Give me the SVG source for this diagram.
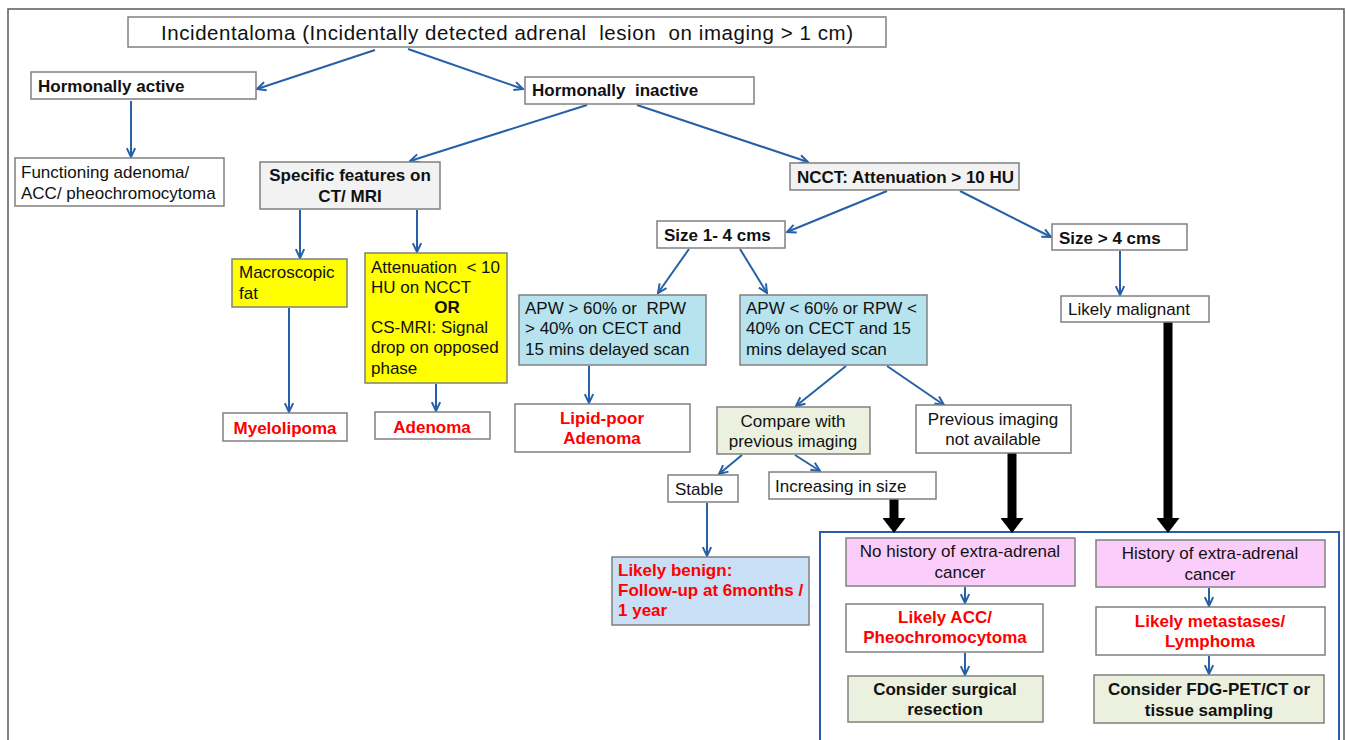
<svg xmlns="http://www.w3.org/2000/svg" width="1346" height="740" viewBox="0 0 1346 740">
<style>
text{font-family:"Liberation Sans",Arial,sans-serif;font-size:17px;fill:#111;white-space:pre}
.b{font-weight:bold}
.r{fill:#ff0000;font-weight:bold}
.c{text-anchor:middle}
.box{fill:#fff;stroke:#808080;stroke-width:1.5}
.gray{fill:#f2f2f2}
.yel{fill:#ffff00}
.cyan{fill:#b7e3ee}
.grn{fill:#ebf1de}
.pink{fill:#fbcdfb}
.lblue{fill:#c8dff5}
.ar{stroke:#2560a8;stroke-width:2;fill:none;marker-end:url(#a)}
.thick{stroke:#000;stroke-width:9;fill:none;marker-end:url(#t)}
</style>
<defs>
<marker id="a" markerUnits="userSpaceOnUse" markerWidth="11" markerHeight="11" viewBox="0 0 10 10" refX="9" refY="5" orient="auto">
<path d="M1,1.2 L9,5 L1,8.8" fill="none" stroke="#2560a8" stroke-width="1.8"/>
</marker>
<marker id="t" markerUnits="userSpaceOnUse" markerWidth="15" markerHeight="23" viewBox="0 0 15 23" refX="0" refY="11.5" orient="auto">
<path d="M0,0 L15,11.5 L0,23 Z" fill="#000"/>
</marker>
</defs>
<rect x="8" y="9" width="1336" height="760" fill="#fff" stroke="#595959" stroke-width="1.5"/>
<rect x="820" y="532" width="519" height="230" fill="none" stroke="#2a5ea8" stroke-width="2"/>

<g id="connectors">
<line class="ar" x1="375" y1="50" x2="257" y2="89"/>
<line class="ar" x1="408" y1="49" x2="523" y2="89"/>
<line class="ar" x1="131" y1="101" x2="131" y2="157"/>
<line class="ar" x1="587" y1="105" x2="410" y2="161"/>
<line class="ar" x1="637" y1="105" x2="808" y2="162"/>
<line class="ar" x1="887" y1="191" x2="787" y2="232"/>
<line class="ar" x1="960" y1="191" x2="1051" y2="237"/>
<line class="ar" x1="300" y1="210" x2="300" y2="258"/>
<line class="ar" x1="417" y1="210" x2="417" y2="252"/>
<line class="ar" x1="289" y1="308" x2="289" y2="412"/>
<line class="ar" x1="436" y1="384" x2="436" y2="411"/>
<line class="ar" x1="689" y1="249" x2="658" y2="293"/>
<line class="ar" x1="740" y1="249" x2="767" y2="293"/>
<line class="ar" x1="589" y1="366" x2="589" y2="403"/>
<line class="ar" x1="846" y1="366" x2="796" y2="406"/>
<line class="ar" x1="887" y1="366" x2="944" y2="405"/>
<line class="ar" x1="742" y1="455" x2="719" y2="474"/>
<line class="ar" x1="795" y1="455" x2="820" y2="471"/>
<line class="ar" x1="707" y1="503" x2="707" y2="556"/>
<line class="ar" x1="1120" y1="251" x2="1120" y2="295"/>
<line class="ar" x1="965" y1="587" x2="965" y2="603"/>
<line class="ar" x1="965" y1="653" x2="965" y2="675"/>
<line class="ar" x1="1209" y1="588" x2="1209" y2="606"/>
<line class="ar" x1="1209" y1="656" x2="1209" y2="674"/>
<line class="thick" x1="894" y1="499" x2="894" y2="518"/>
<line class="thick" x1="1012" y1="453" x2="1012" y2="518"/>
<line class="thick" x1="1168" y1="322" x2="1168" y2="518"/>
</g>

<g id="n-title"><rect class="box" x="128" y="17" width="758" height="30"/><text x="161" y="40" style="font-size:20.5px" textLength="692" lengthAdjust="spacing">Incidentaloma (Incidentally detected adrenal  lesion  on imaging &gt; 1 cm)</text></g>
<g id="n-active"><rect class="box" x="31" y="72" width="225" height="27"/><text class="b" x="38" y="92">Hormonally active</text></g>
<g id="n-inactive"><rect class="box" x="525" y="77" width="229" height="27"/><text class="b" x="532" y="96">Hormonally  inactive</text></g>
<g id="n-functioning"><rect class="box" x="15" y="158" width="209" height="48"/><text x="21" y="178">Functioning adenoma/</text><text x="21" y="199">ACC/ pheochromocytoma</text></g>
<g id="n-specific"><rect class="box gray" x="260" y="162" width="180" height="47"/><text class="b c" x="350" y="181">Specific features on</text><text class="b c" x="350" y="202">CT/ MRI</text></g>
<g id="n-ncct"><rect class="box gray" x="790" y="163" width="229" height="27"/><text class="b" x="797" y="183">NCCT: Attenuation &gt; 10 HU</text></g>
<g id="n-size14"><rect class="box" x="657" y="221" width="128" height="27"/><text class="b" x="664" y="241">Size 1- 4 cms</text></g>
<g id="n-size4"><rect class="box" x="1052" y="224" width="135" height="26"/><text class="b" x="1059" y="244">Size &gt; 4 cms</text></g>
<g id="n-macro"><rect class="box yel" x="232" y="259" width="115" height="48"/><text x="239" y="278">Macroscopic</text><text x="239" y="299">fat</text></g>
<g id="n-atten"><rect class="box yel" x="365" y="253" width="142" height="130"/><text x="371" y="273">Attenuation  &lt; 10</text><text x="371" y="293">HU on NCCT</text><text class="b" x="447" y="313" text-anchor="middle">OR</text><text x="371" y="333">CS-MRI: Signal</text><text x="371" y="353">drop on opposed</text><text x="371" y="374">phase</text></g>
<g id="n-apw1"><rect class="box cyan" x="519" y="295" width="187" height="70"/><text x="525" y="314">APW &gt; 60% or  RPW</text><text x="525" y="334">&gt; 40% on CECT and</text><text x="525" y="355">15 mins delayed scan</text></g>
<g id="n-apw2"><rect class="box cyan" x="740" y="295" width="187" height="70"/><text x="746" y="314">APW &lt; 60% or RPW &lt;</text><text x="746" y="334">40% on CECT and 15</text><text x="746" y="355">mins delayed scan</text></g>
<g id="n-myelo"><rect class="box" x="223" y="413" width="124" height="28"/><text class="r c" x="285" y="434">Myelolipoma</text></g>
<g id="n-adenoma"><rect class="box" x="375" y="412" width="115" height="27"/><text class="r c" x="432" y="433">Adenoma</text></g>
<g id="n-lipidpoor"><rect class="box" x="515" y="404" width="175" height="48"/><text class="r c" x="602" y="424">Lipid-poor</text><text class="r c" x="602" y="444">Adenoma</text></g>
<g id="n-compare"><rect class="box grn" x="717" y="407" width="153" height="47"/><text class="c" x="793" y="427">Compare with</text><text class="c" x="793" y="447">previous imaging</text></g>
<g id="n-previous"><rect class="box" x="916" y="405" width="155" height="48"/><text class="c" x="993" y="425">Previous imaging</text><text class="c" x="993" y="445">not available</text></g>
<g id="n-stable"><rect class="box" x="668" y="475" width="70" height="27"/><text x="675" y="495">Stable</text></g>
<g id="n-increasing"><rect class="box" x="769" y="472" width="167" height="27"/><text x="775" y="492">Increasing in size</text></g>
<g id="n-malignant"><rect class="box" x="1061" y="296" width="148" height="26"/><text x="1068" y="315">Likely malignant</text></g>
<g id="n-benign"><rect class="box lblue" x="612" y="557" width="197" height="68"/><text class="r" x="618" y="576">Likely benign:</text><text class="r" x="618" y="596">Follow-up at 6months /</text><text class="r" x="618" y="616">1 year</text></g>
<g id="n-nohistory"><rect class="box pink" x="846" y="538" width="229" height="48"/><text class="c" x="960" y="557">No history of extra-adrenal</text><text class="c" x="960" y="578">cancer</text></g>
<g id="n-history"><rect class="box pink" x="1096" y="540" width="229" height="47"/><text class="c" x="1210" y="559">History of extra-adrenal</text><text class="c" x="1210" y="580">cancer</text></g>
<g id="n-acc"><rect class="box" x="846" y="604" width="197" height="48"/><text class="r c" x="945" y="623">Likely ACC/</text><text class="r c" x="945" y="643">Pheochromocytoma</text></g>
<g id="n-meta"><rect class="box" x="1096" y="607" width="229" height="48"/><text class="r c" x="1210" y="627">Likely metastases/</text><text class="r c" x="1210" y="647">Lymphoma</text></g>
<g id="n-surgical"><rect class="box grn" x="848" y="676" width="195" height="46"/><text class="b c" x="945" y="695">Consider surgical</text><text class="b c" x="945" y="715">resection</text></g>
<g id="n-fdg"><rect class="box grn" x="1094" y="675" width="230" height="48"/><text class="b c" x="1209" y="695">Consider FDG-PET/CT or</text><text class="b c" x="1209" y="716">tissue sampling</text></g>
</svg>
